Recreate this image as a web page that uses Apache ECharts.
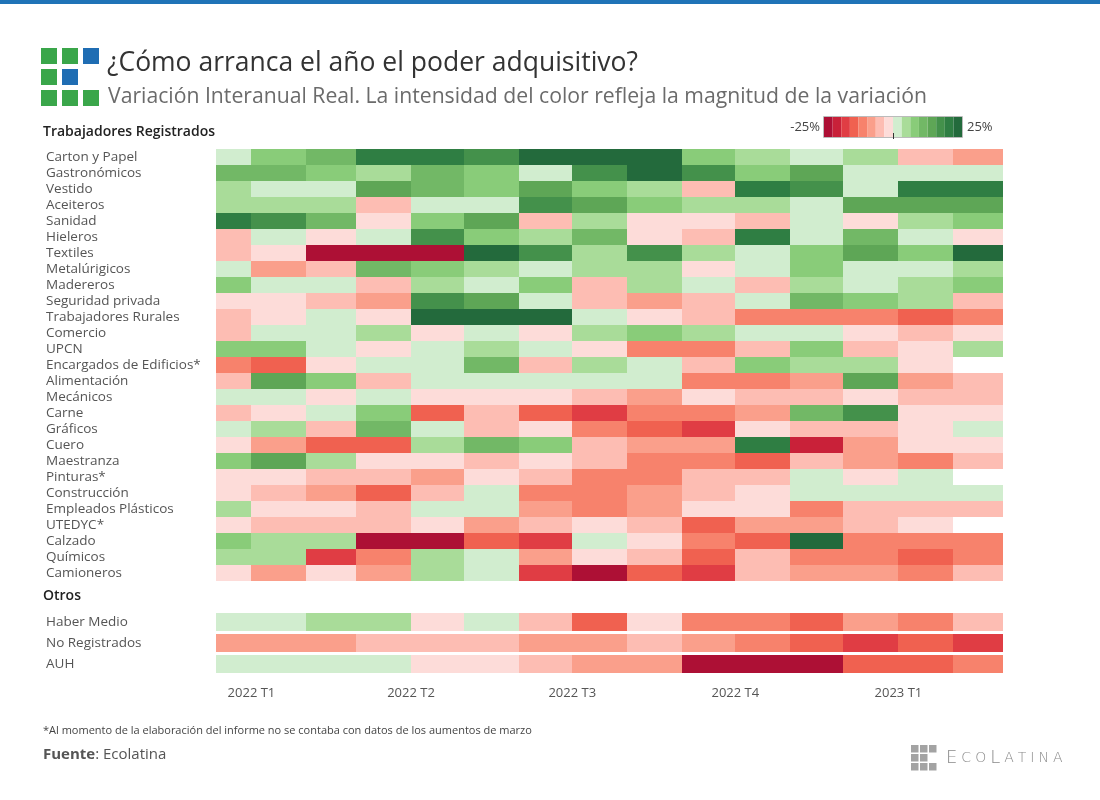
<!DOCTYPE html>
<html><head><meta charset="utf-8">
<script src="https://cdn.jsdelivr.net/npm/echarts@6/dist/echarts.min.js"></script>
<style>html,body{margin:0;padding:0;background:#fff}#c{width:1100px;height:800px}</style>
</head><body><div id="c"></div><script>
// ---- data ----
const months = ['2021-12','2022-01','2022-02','2022-03','2022-04','2022-05','2022-06','2022-07','2022-08','2022-09','2022-10','2022-11','2022-12','2023-01','2023-02'];
const rowsRegistrados = ['Carton y Papel','Gastronómicos','Vestido','Aceiteros','Sanidad','Hieleros','Textiles','Metalúrigicos','Madereros','Seguridad privada','Trabajadores Rurales','Comercio','UPCN','Encargados de Edificios*','Alimentación','Mecánicos','Carne','Gráficos','Cuero','Maestranza','Pinturas*','Construcción','Empleados Plásticos','UTEDYC*','Calzado','Químicos','Camioneros'];
const cartonPapel   = [1.6, 8.1, 10.7, 20.2, 19.6, 17.1, 23.8, 24.6, 22.9, 7.4, 4.9, 2.1, 5.3, -4.2, -7.9];
const gastronomicos = [10.4, 11.2, 7.7, 4.5, 10.9, 8.3, 1.9, 16.8, 23.1, 17.4, 8.6, 13.9, 2.2, 1.4, 0.9];
const vestido       = [5.1, 1.8, 2.4, 14.2, 11.6, 8.9, 13.5, 7.2, 4.4, -4.6, 20.8, 16.3, 2.6, 19.9, 20.5];
const aceiteros     = [4.8, 5.5, 3.9, -5.2, 1.2, 2.7, 17.6, 13.1, 7.9, 5.8, 4.1, 2.3, 14.6, 13.8, 14.1];
const sanidad       = [21.3, 16.9, 10.2, -1.7, 8.4, 14.8, -4.9, 5.6, -2.2, -0.8, -3.9, 1.1, -1.4, 4.2, 7.6];
const hieleros      = [-5.4, 1.3, -2.6, 2.2, 16.4, 7.1, 5.9, 11.8, -1.9, -4.1, 20.1, 0.7, 10.6, 2.8, -1.2];
const textiles      = [-4.5, -2.1, -27.3, -29.8, -25.6, 22.7, 17.9, 3.6, 16.2, 5.2, 1.5, 8.8, 14.4, 6.9, 24.3];
const metalurgicos  = [2.5, -8.3, -4.8, 11.4, 7.5, 4.7, 1.6, 3.8, 5.4, -1.3, 2.9, 9.0, 0.6, 1.9, 4.6];
const madereros     = [8.7, 2.0, 1.4, -3.7, 4.3, 0.9, 7.3, -5.6, 5.0, 2.6, -4.4, 3.7, 1.8, 5.7, 8.2];
const seguridad     = [-2.4, -1.1, -5.3, -8.6, 17.3, 13.6, 2.1, -4.3, -7.1, -3.6, 1.7, 11.1, 7.7, 4.9, -5.8];
const rurales       = [-4.9, -2.8, 0.8, -1.6, 23.4, 25.1, 22.6, 2.4, -0.9, -5.1, -10.8, -11.6, -10.3, -14.2, -11.9];
const comercio      = [-3.8, 1.2, 2.7, 5.3, -2.0, 1.5, -1.2, 4.0, 8.0, 4.8, 2.2, 1.0, -2.7, -4.6, -1.8];
const upcn          = [7.9, 8.5, 1.7, -1.4, 2.4, 4.6, 0.5, -2.3, -11.3, -10.7, -5.5, 7.4, -4.1, -2.5, 5.2];
const encargados    = [-11.5, -14.6, -1.9, 1.4, 2.6, 10.8, -4.2, 4.4, 1.1, -5.0, 8.1, 4.9, 5.6, -2.0, null];
const alimentacion  = [-4.4, 14.0, 8.3, -4.9, 2.3, 1.3, 0.8, 2.0, 1.6, -11.0, -10.9, -7.6, 13.2, -8.1, -5.0];
const mecanicos     = [1.9, 2.5, -1.8, 0.9, -2.4, -1.0, -2.9, -4.3, -7.5, -1.5, -5.2, -4.0, -2.1, -4.7, -3.9];
const carne         = [-4.8, -1.3, 2.1, 8.0, -14.3, -5.4, -13.7, -17.4, -11.2, -10.6, -8.4, 11.3, 17.0, -2.2, -1.6];
const graficos      = [1.0, 4.2, -4.5, 10.5, 1.8, -3.9, -2.0, -11.4, -13.9, -17.0, -1.1, -5.3, -4.2, -2.6, 2.3];
const cuero         = [-1.6, -7.7, -14.1, -13.3, 5.4, 11.6, 7.0, -4.6, -8.0, -7.3, 20.4, -20.6, -7.9, -1.9, -1.2];
const maestranza    = [8.9, 13.4, 4.6, -1.5, -2.3, -4.4, -2.6, -5.1, -10.9, -11.5, -14.4, -3.8, -8.3, -10.6, -4.9];
const pinturas      = [-1.8, -2.2, -4.7, -5.0, -7.2, -2.7, -4.1, -10.7, -11.1, -4.9, -3.6, 1.3, -1.9, 0.8, null];
const construccion  = [-2.5, -4.9, -8.2, -14.7, -4.3, 2.0, -11.2, -10.8, -7.4, -5.2, -1.7, 1.6, 2.4, 0.9, 1.8];
const plasticos     = [4.9, -1.4, -2.0, -4.6, 1.1, 2.8, -7.8, -11.0, -8.1, -2.4, -1.3, -11.4, -4.5, -5.0, -4.2];
const utedyc        = [-2.1, -4.3, -5.1, -4.7, -1.9, -7.6, -4.4, -1.0, -3.8, -14.0, -8.5, -7.9, -5.3, -2.2, null];
const calzado       = [7.6, 4.4, 5.7, -26.4, -28.1, -14.2, -17.6, 1.9, -2.5, -11.3, -13.8, 22.4, -10.6, -11.1, -11.7];
const quimicos      = [5.3, 4.0, -17.2, -11.8, 4.7, 2.3, -8.2, -2.8, -4.1, -13.6, -5.4, -10.4, -11.5, -14.9, -10.9];
const camioneros    = [-1.2, -7.9, -2.6, -8.4, 4.8, 1.4, -16.9, -23.7, -14.4, -17.8, -5.1, -7.4, -8.0, -11.3, -4.6];
const valsRegistrados = [cartonPapel, gastronomicos, vestido, aceiteros, sanidad, hieleros, textiles, metalurgicos, madereros, seguridad, rurales, comercio, upcn, encargados, alimentacion, mecanicos, carne, graficos, cuero, maestranza, pinturas, construccion, plasticos, utedyc, calzado, quimicos, camioneros];

const rowsOtros = ['Haber Medio','No Registrados','AUH'];
const haberMedio     = [1.8, 1.8, 4.6, 4.6, -2.2, 1.3, -4.8, -14.1, -1.9, -11.2, -11.2, -13.8, -8.2, -10.7, -4.7];
const noRegistrados  = [-7.8, -7.8, -7.9, -4.9, -4.6, -4.8, -8.3, -8.1, -5.2, -8.6, -11.1, -14.2, -17.5, -14.5, -17.3];
const auh            = [2.1, 2.1, 2.0, 2.0, -1.7, -1.8, -4.9, -8.4, -8.2, -26.8, -26.8, -26.6, -14.6, -14.3, -11.4];
const valsOtros = [haberMedio, noRegistrados, auh];

const quarterLabels = ['2022 T1','2022 T2','2022 T3','2022 T4','2023 T1'];
const quarterStarts = ['2022-01-01','2022-04-01','2022-07-01','2022-10-01','2023-01-01'];
const axisStart = '2021-12-12';   // left edge of the visible range (first month is clipped)
const axisEnd = '2023-03-01';
const colorSteps = ['#ad1035','#c92139','#e03d44','#f06150','#f7826c','#fa9f8b','#fdbdb3','#fddcd9',
                    '#d1edcf','#a9dc99','#89cc79','#72b866','#5ea656','#44914b','#2f7e43','#236a3c'];
const legendMin = -25, legendMax = 25;

// ---- helpers ----
const DAY = 86400000;
const ORIGIN = Date.UTC(2022, 0, 1);
function dayOf(str) { const p = str.split('-').map(Number); return (Date.UTC(p[0], p[1] - 1, p[2] || 1) - ORIGIN) / DAY; }
function monthEnd(str) { const p = str.split('-').map(Number); return (Date.UTC(p[0], p[1], 1) - ORIGIN) / DAY; }
function build(vals) {
  const out = [];
  vals.forEach((row, r) => row.forEach((v, m) => {
    if (v === null || v === undefined) return;
    out.push([dayOf(months[m]), r, v, monthEnd(months[m])]);
  }));
  return out;
}
const step = (legendMax - legendMin) / colorSteps.length;
const pieces = colorSteps.map((c, i) => {
  const p = { color: c };
  if (i > 0) p.gte = legendMin + i * step;
  if (i < colorSteps.length - 1) p.lt = legendMin + (i + 1) * step;
  return p;
});
const qVals = quarterStarts.map(dayOf);

function makeRender(ratio) {
  return function (params, api) {
    const y = api.value(1);
    const a = api.coord([api.value(0), y]);
    const b = api.coord([api.value(3), y]);
    const h = api.size([0, 1])[1] * ratio;
    const cs = params.coordSys;
    const x0 = Math.round(Math.max(a[0], cs.x));
    const x1 = Math.round(Math.min(b[0], cs.x + cs.width));
    if (x1 <= x0) return null;
    return {
      type: 'rect',
      shape: { x: x0, y: Math.round(a[1] - h / 2), width: x1 - x0, height: Math.round(h) },
      style: { fill: api.visual('color') }
    };
  };
}

const FONT = '"Open Sans", "Noto Sans", sans-serif';
const green = '#3aa64a', blue = '#1f6db3';
const logoCells = [[0,0,green],[1,0,green],[2,0,blue],[0,1,green],[1,1,blue],[0,2,green],[1,2,green],[2,2,green]];
const grayCells = [[0,0],[1,0],[2,0],[0,1],[1,1],[0,2],[1,2],[2,2]];
const brand = 'ECOLATINA';
const brandBig = [0, 3];

const chart = echarts.init(document.getElementById('c'), null, { renderer: 'canvas' });
const xCommon = { type: 'value', min: dayOf(axisStart), max: dayOf(axisEnd), splitLine: { show: false } };
const yLabel = { align: 'left', margin: 170, color: '#555', fontSize: 13.5, fontFamily: FONT, interval: 0 };
chart.setOption({
  backgroundColor: '#ffffff',
  animation: false,
  grid: [
    { left: 216, width: 787, top: 149, height: 432 },
    { left: 216, width: 787, top: 611.5, height: 63 }
  ],
  xAxis: [
    Object.assign({ gridIndex: 0, show: false }, xCommon),
    Object.assign({ gridIndex: 1, axisLine: { show: false }, axisTick: { show: false },
      axisLabel: { customValues: qVals, margin: 12, color: '#555', fontSize: 13, fontFamily: FONT,
        formatter: v => quarterLabels[qVals.indexOf(v)] || '' } }, xCommon)
  ],
  yAxis: [
    { type: 'category', gridIndex: 0, data: rowsRegistrados, inverse: true,
      axisLine: { show: false }, axisTick: { show: false }, splitLine: { show: false }, axisLabel: yLabel },
    { type: 'category', gridIndex: 1, data: rowsOtros, inverse: true,
      axisLine: { show: false }, axisTick: { show: false }, splitLine: { show: false }, axisLabel: yLabel }
  ],
  visualMap: {
    type: 'piecewise', orient: 'horizontal', seriesIndex: [0, 1], dimension: 2,
    pieces: pieces, left: 824, top: 117, itemWidth: 8.63, itemHeight: 20, itemGap: 0,
    itemSymbol: 'rect', showLabel: false, selectedMode: false, hoverLink: false, padding: 0
  },
  series: [
    { type: 'custom', xAxisIndex: 0, yAxisIndex: 0, renderItem: makeRender(1),
      encode: { x: [0, 3], y: 1 }, data: build(valsRegistrados) },
    { type: 'custom', xAxisIndex: 1, yAxisIndex: 1, renderItem: makeRender(18 / 21),
      encode: { x: [0, 3], y: 1 }, data: build(valsOtros) }
  ],
  graphic: [
    { type: 'rect', shape: { x: 0, y: 0, width: 1100, height: 4 }, style: { fill: '#1f73b7' } },
    ...logoCells.map(c => ({ type: 'rect', shape: { x: 41 + c[0] * 21, y: 48 + c[1] * 21, width: 16, height: 16 }, style: { fill: c[2] } })),
    { type: 'text', x: 107, y: 63, style: { text: '¿Cómo arranca el año el poder adquisitivo?', font: '400 26.5px ' + FONT, fill: '#333', verticalAlign: 'middle' } },
    { type: 'text', x: 108, y: 97, style: { text: 'Variación Interanual Real. La intensidad del color refleja la magnitud de la variación', font: '400 21.2px ' + FONT, fill: '#6b6b6b', verticalAlign: 'middle' } },
    { type: 'text', x: 43, y: 132, style: { text: 'Trabajadores Registrados', font: '600 14px ' + FONT, fill: '#222', verticalAlign: 'middle' } },
    { type: 'text', x: 43, y: 596, style: { text: 'Otros', font: '600 14px ' + FONT, fill: '#222', verticalAlign: 'middle' } },
    { type: 'text', x: 820, y: 127, style: { text: '-25%', font: '400 13px ' + FONT, fill: '#444', align: 'right', verticalAlign: 'middle' } },
    { type: 'text', x: 967, y: 127, style: { text: '25%', font: '400 13px ' + FONT, fill: '#444', verticalAlign: 'middle' } },
    { type: 'rect', shape: { x: 823.5, y: 116.5, width: 139, height: 21 }, style: { fill: 'none', stroke: '#bbb', lineWidth: 1 }, z: 10 },
    { type: 'line', shape: { x1: 893.5, y1: 133, x2: 893.5, y2: 139 }, style: { stroke: '#333', lineWidth: 1 }, z: 11 },
    { type: 'text', x: 43, y: 731, style: { text: '*Al momento de la elaboración del informe no se contaba con datos de los aumentos de marzo', font: '400 11px ' + FONT, fill: '#444', verticalAlign: 'middle' } },
    { type: 'text', x: 43, y: 755, style: { text: '{b|Fuente}: Ecolatina', font: '400 15px ' + FONT, fill: '#555', verticalAlign: 'middle',
        rich: { b: { fontWeight: 700, fontSize: 15, fontFamily: FONT, fill: '#555' } } } },
    ...grayCells.map(c => ({ type: 'rect', shape: { x: 911 + c[0] * 9, y: 745 + c[1] * 9, width: 7.5, height: 7.5 }, style: { fill: '#a3a3a3' } })),
    { type: 'text', x: 944, y: 758, style: {
        text: brand.split('').map((ch, i) => '{' + (brandBig.includes(i) ? 'a' : 'c') + '|' + ch + '}').join(''),
        verticalAlign: 'middle',
        rich: { a: { fontSize: 18, fontFamily: '"DejaVu Sans"', fill: '#8a8a8a', fontWeight: 200, padding: [0, 2, 0, 2] },
                c: { fontSize: 14, fontFamily: '"DejaVu Sans"', fill: '#8a8a8a', fontWeight: 200, padding: [0, 2, 0, 2] } } } }
  ]
});
</script></body></html>
